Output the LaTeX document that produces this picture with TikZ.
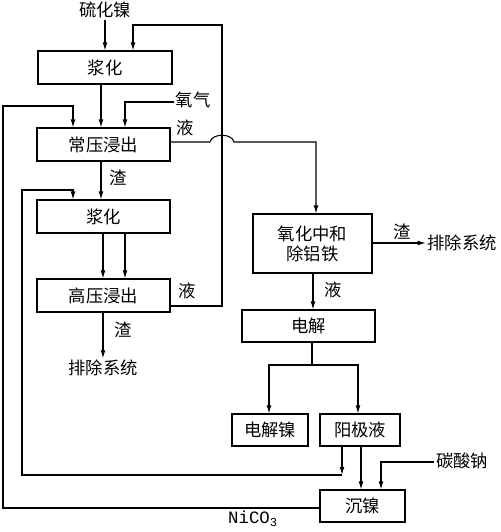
\documentclass[tikz,border=0pt]{standalone}
\usepackage{fontspec}
\setmainfont{Noto Sans CJK SC}
\setmonofont{Liberation Mono}
\usetikzlibrary{arrows.meta}
\tikzset{
  box/.style={draw, line width=0.8pt, minimum height=24.75pt, inner sep=0pt},
  lbl/.style={inner sep=1pt},
  flow/.style={line width=0.8pt, -{Latex[length=6pt,width=3.6pt]}},
  line/.style={line width=0.8pt}
}
\begin{document}
\begin{tikzpicture}[x=0.75pt, y=-0.75pt, font=\fontsize{13pt}{15pt}\selectfont]
\useasboundingbox (0,0) rectangle (500,532);

% process boxes
\node[box, minimum width=100.5pt] (pulpA) at (105,67.5) {浆化};
\node[box, minimum width=99.75pt] (atmleach) at (103.5,144.5) {常压浸出};
\node[box, minimum width=99.75pt] (pulpB) at (103.5,216.5) {浆化};
\node[box, minimum width=99.75pt] (hpleach) at (103.5,295.5) {高压浸出};
\node[box, minimum width=89.25pt, minimum height=44.25pt, align=center] (purify) at (312.5,243.5) {氧化中和\\除铝铁};
\node[box, minimum width=99.75pt, minimum height=24pt] (electro) at (308.5,326) {电解};
\node[box, minimum width=57pt, minimum height=24pt] (cathode) at (270,430) {电解镍};
\node[box, minimum width=60pt, minimum height=24pt] (anolyte) at (360,430) {阳极液};
\node[box, minimum width=63.75pt, minimum height=24pt] (precip) at (362.5,506) {沉镍};

% inputs and outputs
\node[lbl] (feed) at (105,10) {硫化镍};
\node[lbl] (oxygen) at (193,100) {氧气};
\node[lbl] (soda) at (462,461) {碳酸钠};
\node[lbl] (wasteA) at (103,368) {排除系统};
\node[lbl] (wasteB) at (462,243) {排除系统};

% stream labels
\node[lbl] (liqA) at (185,128) {液};
\node[lbl] (resA) at (118,178) {渣};
\node[lbl] (liqB) at (187,291) {液};
\node[lbl] (resB) at (123,330) {渣};
\node[lbl] (resC) at (402,232) {渣};
\node[lbl] (liqC) at (333,290) {液};
\node[lbl] (nico) at (253,519) {\ttfamily NiCO\textsubscript{3}};

% main line
\draw[flow] (feed.south) -- (feed.south |- pulpA.north);
\draw[flow] (pulpA.south -| 101,0) -- (atmleach.north -| 101,0);
\draw[flow] (oxygen.west |- 0,102) -| (atmleach.north -| 125,0);
\draw[flow] (atmleach.south -| 101,0) -- (pulpB.north -| 101,0);
\draw[flow] (pulpB.south -| 103,0) -- (hpleach.north -| 103,0);
\draw[flow] (pulpB.south -| 125,0) -- (hpleach.north -| 125,0);
\draw[flow] (hpleach.south -| wasteA.north) -- (wasteA.north);

% high pressure liquor back to first pulping
\draw[flow] (hpleach.east |- 0,306) -| (222,25) -| (pulpA.north -| 133,0);

% atmospheric liquor to purification, hopping over the return line
\draw[flow] (atmleach.east |- 0,142) -- (210,142)
  .. controls (212,133) and (232,133) .. (234,142) -| (purify.north -| 316,0);

\draw[flow] (purify.east |- 0,243) -- (wasteB.west);
\draw[flow] (purify.south -| 313,0) -- (electro.north -| 313,0);

% electrolysis split
\coordinate (split) at (312,365);
\draw[line] (electro.south -| split) -- (split);
\draw[flow] (split) -| (cathode.north -| 269,0);
\draw[flow] (split) -| (anolyte.north -| 358,0);

% anolyte recycle and nickel precipitation
\coordinate (junc) at (342,475);
\draw[flow] (anolyte.south -| junc) -- (junc);
\draw[flow] (junc) -- (22,475) -- (22,190) -| (pulpB.north -| 73,0);
\draw[flow] (anolyte.south -| 361,0) -- (precip.north -| 361,0);
\draw[flow] (soda.west |- 0,462) -| (precip.north -| 381,0);
\draw[flow] (precip.west |- 0,508) -- (3,508) -- (3,106) -| (atmleach.north -| 73,0);

\end{tikzpicture}
\end{document}
